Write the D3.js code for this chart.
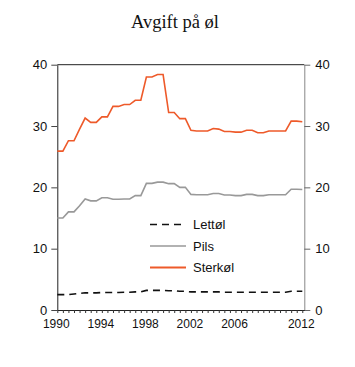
<!DOCTYPE html>
<html><head><meta charset="utf-8">
<script src="https://cdn.jsdelivr.net/npm/d3@7"></script>
<style>body{margin:0;background:#fff}svg{display:block}</style>
</head><body>
<svg id="c" width="355" height="367"></svg>
<script>
const title = "Avgift på øl";
const years = [1990,1990.5,1991,1991.5,1992,1992.5,1993,1993.5,1994,1994.5,1995,1995.5,1996,1996.5,1997,1997.5,1998,1998.5,1999,1999.5,2000,2000.5,2001,2001.5,2002,2002.5,2003,2003.5,2004,2004.5,2005,2005.5,2006,2006.5,2007,2007.5,2008,2008.5,2009,2009.5,2010,2010.5,2011,2011.5,2012];
const lettol = [2.5,2.5,2.5,2.6,2.7,2.8,2.8,2.8,2.85,2.85,2.85,2.85,2.9,2.9,2.95,2.95,3.2,3.2,3.2,3.2,3.15,3.15,3.05,3.05,2.95,2.95,2.95,2.95,2.95,2.95,2.9,2.9,2.9,2.9,2.9,2.9,2.9,2.9,2.9,2.9,2.9,2.9,3.05,3.05,3.05];
const pils = [15.0,15.0,16.0,16.0,17.0,18.1,17.8,17.8,18.3,18.3,18.05,18.05,18.1,18.1,18.65,18.65,20.65,20.65,20.85,20.85,20.6,20.6,20.0,20.0,18.85,18.8,18.8,18.8,19.0,19.0,18.75,18.75,18.65,18.65,18.85,18.85,18.65,18.65,18.8,18.8,18.8,18.8,19.7,19.7,19.65];
const sterkol = [25.9,25.9,27.6,27.6,29.5,31.3,30.6,30.6,31.5,31.5,33.2,33.2,33.5,33.5,34.2,34.2,38.0,38.0,38.4,38.4,32.2,32.2,31.2,31.2,29.3,29.2,29.2,29.2,29.6,29.5,29.1,29.1,29.0,29.0,29.3,29.3,28.9,28.9,29.2,29.2,29.2,29.2,30.8,30.8,30.7];
const seriesNames = ["Lettøl","Pils","Sterkøl"];
const yTicks = [0,10,20,30,40];
const xLabels = [1990,1994,1998,2002,2006,2012];

const svg = d3.select("#c");
const L = 57.3, R = 304.3, T = 64.7, B = 310;
const x = d3.scaleLinear().domain([1990, 2012.18]).range([L, R]);
const y = d3.scaleLinear().domain([0, 40]).range([B, T]);

svg.append("text").attr("x", 175).attr("y", 28).attr("text-anchor","middle")
  .attr("font-family","'Liberation Serif','Times New Roman',serif").attr("font-size",18.5).attr("fill","#111").text(title);

svg.append("line").attr("x1",L).attr("x2",R).attr("y1",T).attr("y2",T).attr("stroke","#222").attr("stroke-width",1);

const font = "'Liberation Sans',Arial,sans-serif";
const yl = svg.append("g").attr("transform",`translate(${L},0)`)
  .call(d3.axisLeft(y).tickValues(yTicks).tickSize(6).tickPadding(4).tickSizeOuter(0));
yl.select(".domain").attr("stroke","#222");
yl.selectAll(".tick line").attr("stroke","#444");
yl.selectAll("text").attr("font-family",font).attr("font-size",13).attr("fill","#111");

const yr = svg.append("g").attr("transform",`translate(${R},0)`)
  .call(d3.axisRight(y).tickValues(yTicks).tickSize(6).tickPadding(5).tickSizeOuter(0));
yr.select(".domain").attr("stroke","#888");
yr.selectAll(".tick line").attr("stroke","#666");
yr.selectAll("text").attr("font-family",font).attr("font-size",13).attr("fill","#111");

const xa = svg.append("g").attr("transform",`translate(0,${B})`)
  .call(d3.axisBottom(x).tickValues(years).tickSize(3).tickFormat(()=>"").tickSizeOuter(0));
xa.select(".domain").attr("stroke","#222");
xa.selectAll(".tick line").attr("stroke","#333");
svg.append("g").selectAll("text").data(xLabels).join("text")
  .attr("x", d => x(d) - 1).attr("y", B + 18).attr("text-anchor","middle")
  .attr("font-family",font).attr("font-size",12).attr("fill","#111").text(d => d);

const line = d3.line().x((d,i)=>x(years[i])).y(d=>y(d));
const styles = [
  {data: lettol, color:"#111", w:1.6, dash:"7,5"},
  {data: pils, color:"#999", w:1.6, dash:null},
  {data: sterkol, color:"#EE5A2A", w:1.6, dash:null}
];
styles.forEach(s => {
  svg.append("path").datum(s.data).attr("d", line).attr("fill","none")
    .attr("stroke", s.color).attr("stroke-width", s.w).attr("stroke-dasharray", s.dash);
});

const legY = [224.5, 246, 267.5];
const lg = svg.append("g");
styles.forEach((s,i) => {
  lg.append("line").attr("x1",150).attr("x2",186).attr("y1",legY[i]).attr("y2",legY[i])
    .attr("stroke", s.color).attr("stroke-width", i===2?2.2:s.w).attr("stroke-dasharray", s.dash);
  lg.append("text").attr("x",193).attr("y",legY[i]+4.5).attr("font-family",font).attr("font-size",13)
    .attr("fill","#111").text(seriesNames[i]);
});
</script>
</body></html>
